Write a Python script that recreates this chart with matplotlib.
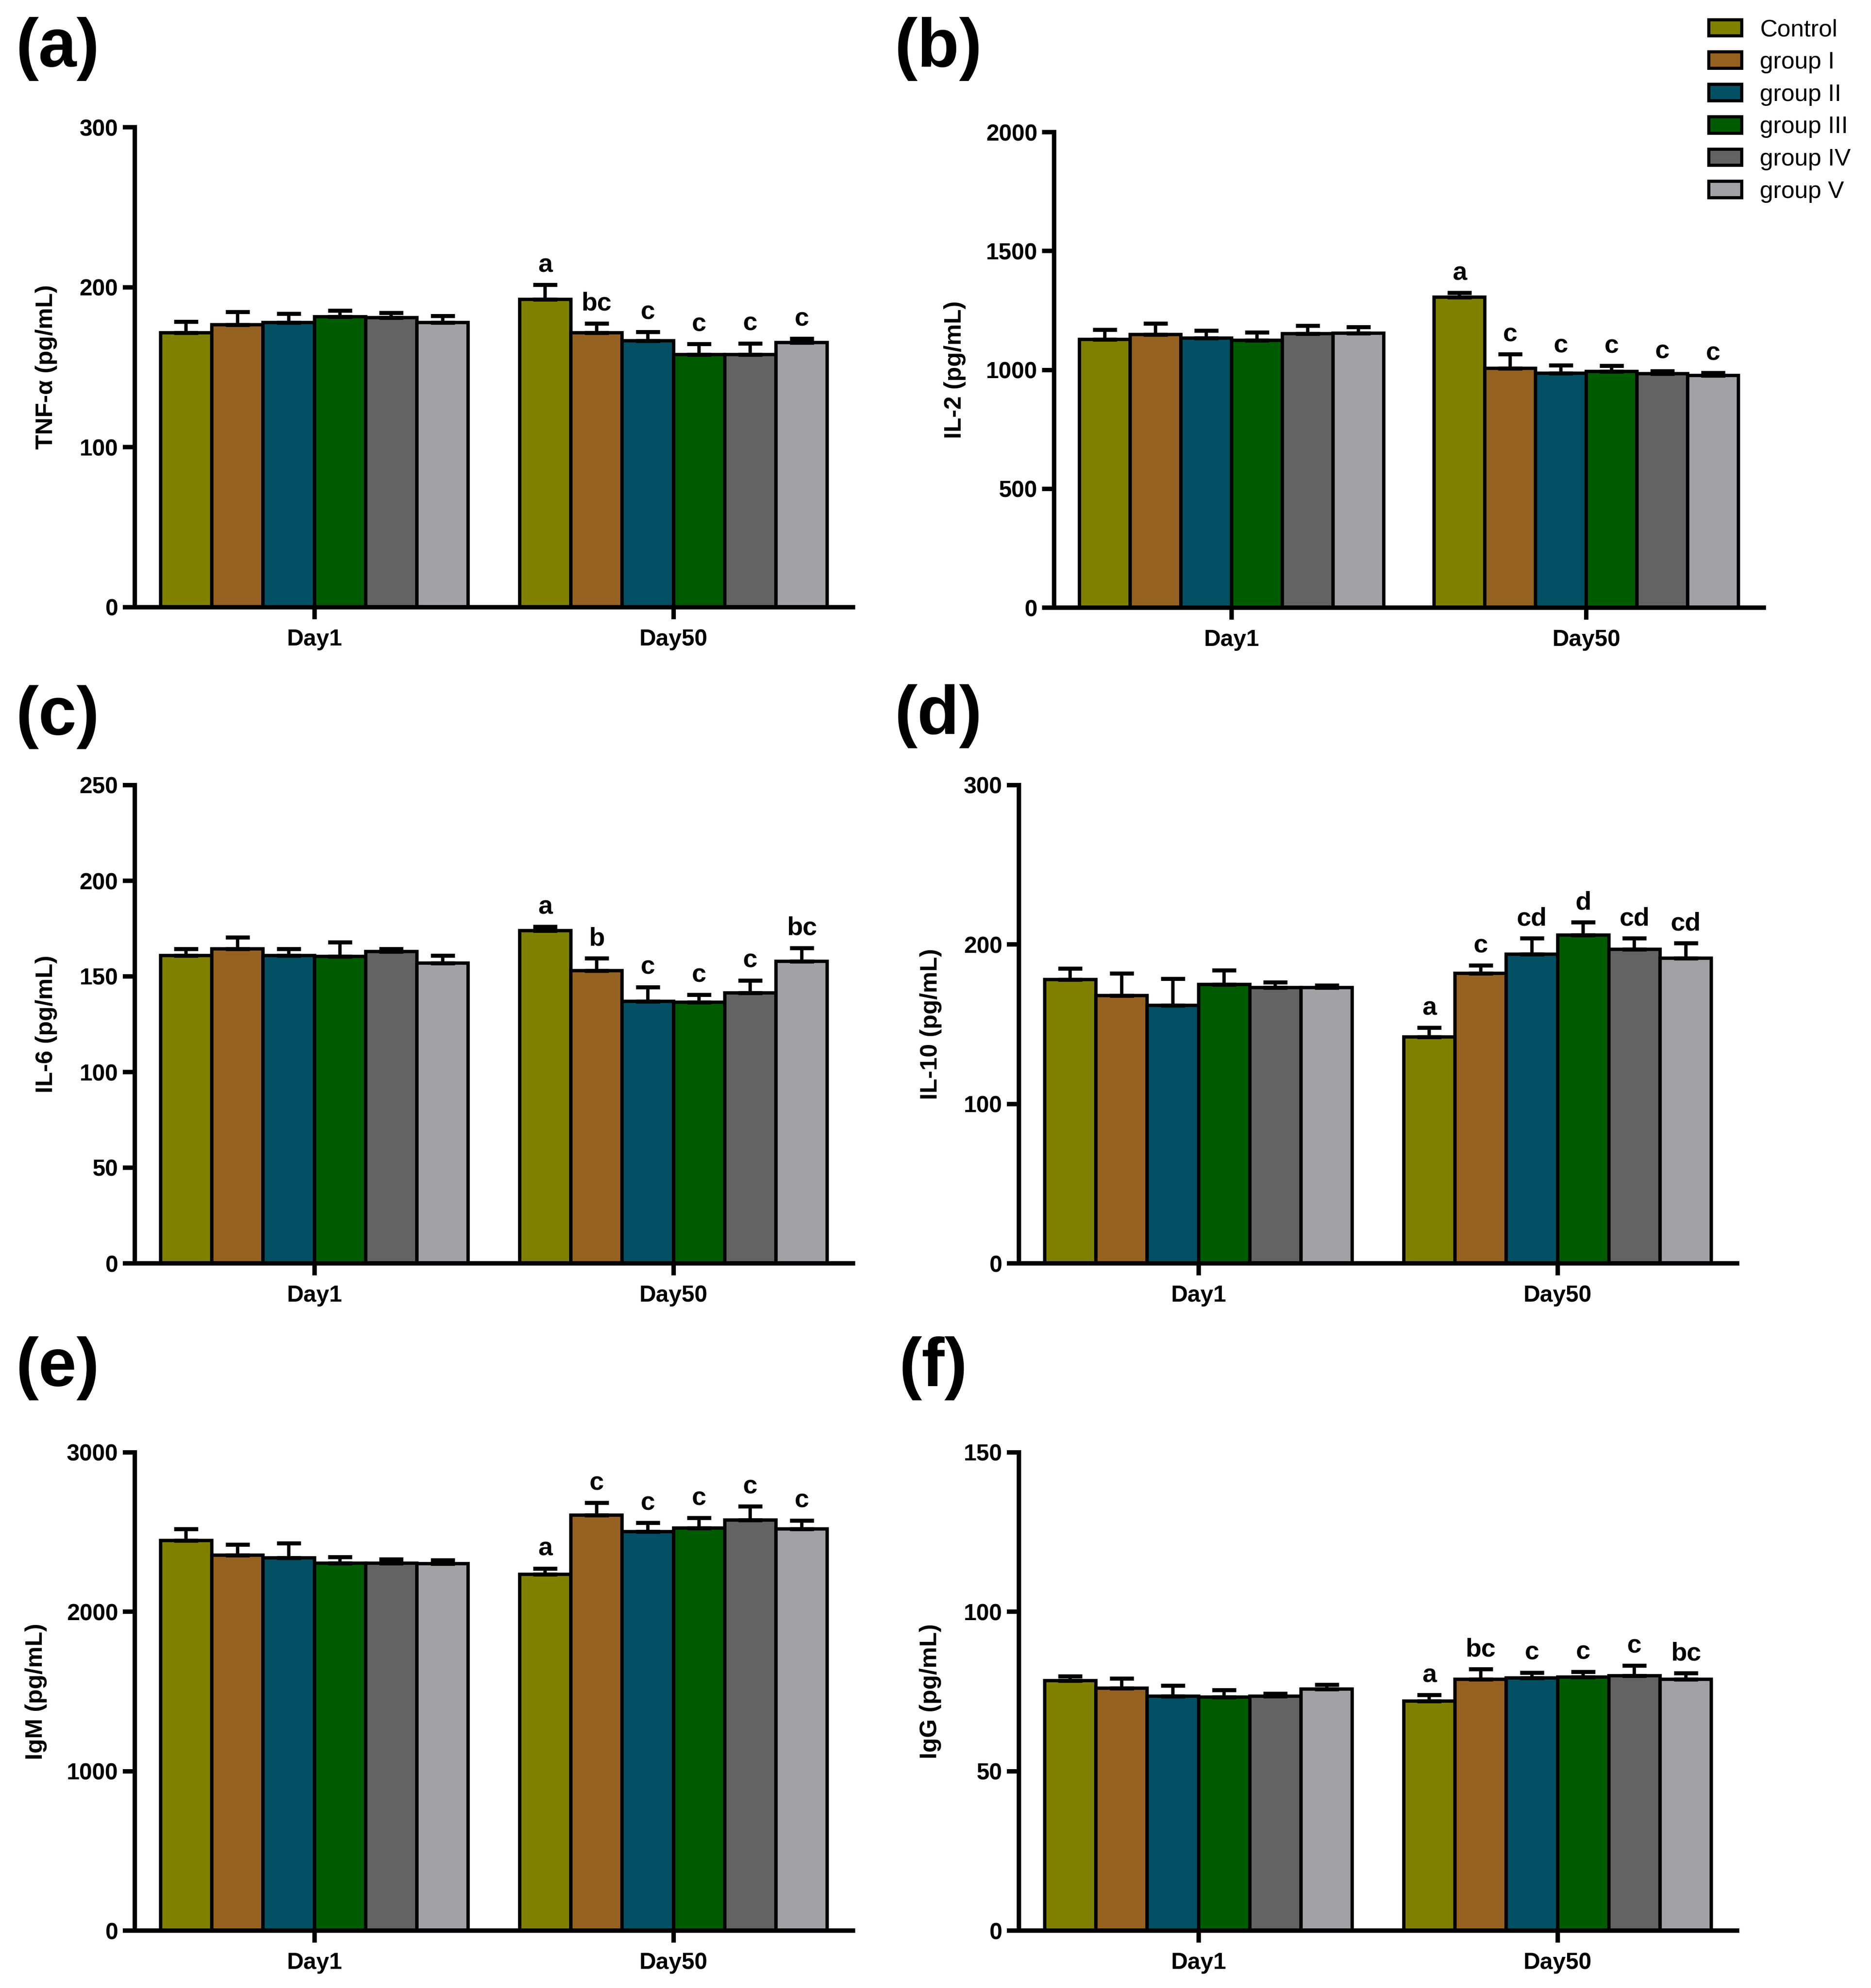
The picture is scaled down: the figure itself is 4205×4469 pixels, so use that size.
import matplotlib
matplotlib.use("Agg")
import matplotlib.pyplot as plt
from matplotlib.patches import Patch
import numpy as np

groups = ['Control', 'group I', 'group II', 'group III', 'group IV', 'group V']
colors = ['#808000', '#956221', '#034F64', '#005A00', '#636363', '#A2A1A6']
days = ['Day1', 'Day50']

# (a) TNF-a
tnf_day1 = [171.5, 176.5, 178, 181.5, 181, 178]
tnf_day1_err = [7, 8, 5.5, 4, 3, 4]
tnf_day50 = [192.5, 171.5, 166.5, 158, 158, 165.5]
tnf_day50_err = [9, 6, 5.5, 6.5, 7, 2.5]
tnf_letters = ['a', 'bc', 'c', 'c', 'c', 'c']

# (b) IL-2
il2_day1 = [1128, 1149, 1134, 1124, 1152, 1155]
il2_day1_err = [41, 47, 32, 34, 34, 25]
il2_day50 = [1305, 1007, 986, 993, 984, 976]
il2_day50_err = [20, 60, 33, 24, 11, 11]
il2_letters = ['a', 'c', 'c', 'c', 'c', 'c']

# (c) IL-6
il6_day1 = [161, 164.5, 161, 160.5, 163, 157]
il6_day1_err = [3.5, 6, 3.5, 7.5, 1.5, 4]
il6_day50 = [174, 153, 137, 136.5, 141.5, 158]
il6_day50_err = [2, 6.5, 7.5, 4, 6.5, 7]
il6_letters = ['a', 'b', 'c', 'c', 'c', 'bc']

# (d) IL-10
il10_day1 = [178, 168, 162, 175, 173, 173]
il10_day1_err = [7, 14, 16.5, 9, 3.5, 1.5]
il10_day50 = [142, 182, 194, 206, 197, 191.5]
il10_day50_err = [6, 5, 10, 8, 7, 9.5]
il10_letters = ['a', 'c', 'cd', 'd', 'cd', 'cd']

# (e) IgM
igm_day1 = [2448, 2354, 2338, 2304, 2304, 2303]
igm_day1_err = [71, 68, 94, 40, 26, 21]
igm_day50 = [2234, 2606, 2504, 2526, 2577, 2520]
igm_day50_err = [39, 79, 54, 64, 84, 54]
igm_letters = ['a', 'c', 'c', 'c', 'c', 'c']

# (f) IgG
igg_day1 = [78.4, 76.0, 73.5, 73.3, 73.6, 75.7]
igg_day1_err = [1.4, 3.1, 3.4, 2.2, 0.8, 1.5]
igg_day50 = [72, 78.8, 79.2, 79.6, 80, 78.8]
igg_day50_err = [2, 3.2, 1.8, 1.6, 3.2, 2]
igg_letters = ['a', 'bc', 'c', 'c', 'c', 'bc']

narrow = ['Liberation Sans Narrow', 'Liberation Sans', 'DejaVu Sans']
plt.rcParams['font.family'] = ['Liberation Sans', 'DejaVu Sans']

fig = plt.figure(figsize=(4205 / 300, 4469 / 300), dpi=300)

W = 4205.0
H = 4469.0

def px_axes(left, top, bottom, width=1614):
    return fig.add_axes([left / W, 1 - bottom / H, width / W, (bottom - top) / H])

panels = [
    ('(a)', px_axes(303, 286, 1365), 'TNF-α (pg/mL)', tnf_day1, tnf_day1_err, tnf_day50, tnf_day50_err, tnf_letters, [0, 100, 200, 300], -0.108, (35, 38)),
    ('(b)', px_axes(2369, 297, 1366, 1595), 'IL-2 (pg/mL)', il2_day1, il2_day1_err, il2_day50, il2_day50_err, il2_letters, [0, 500, 1000, 1500, 2000], -0.124, (2010, 38)),
    ('(c)', px_axes(303, 1765, 2840), 'IL-6 (pg/mL)', il6_day1, il6_day1_err, il6_day50, il6_day50_err, il6_letters, [0, 50, 100, 150, 200, 250], -0.108, (35, 1540)),
    ('(d)', px_axes(2290, 1765, 2840), 'IL-10 (pg/mL)', il10_day1, il10_day1_err, il10_day50, il10_day50_err, il10_letters, [0, 100, 200, 300], -0.107, (2010, 1538)),
    ('(e)', px_axes(303, 3265, 4340), 'IgM (pg/mL)', igm_day1, igm_day1_err, igm_day50, igm_day50_err, igm_letters, [0, 1000, 2000, 3000], -0.122, (35, 3004)),
    ('(f)', px_axes(2290, 3265, 4340), 'IgG (pg/mL)', igg_day1, igg_day1_err, igg_day50, igg_day50_err, igg_letters, [0, 50, 100, 150], -0.108, (2020, 3004)),
]

w = 1 / 7.0
centers = np.arange(len(days))

for tag, ax, ylabel, d1, e1, d50, e50, letters, yticks, lab_x, tag_pos in panels:
    means = np.array([d1, d50])
    errs = np.array([e1, e50])
    for i, g in enumerate(groups):
        x = centers + (i - 2.5) * w
        ax.bar(x, means[:, i], width=w, color=colors[i], edgecolor='black',
               linewidth=1.8, zorder=2)
        ax.errorbar(x, means[:, i], yerr=[np.zeros(2), errs[:, i]], fmt='none',
                    ecolor='black', elinewidth=1.8, capsize=6.5, capthick=2.2, zorder=3)
    for i, lt in enumerate(letters):
        x = centers[1] + (i - 2.5) * w
        ax.annotate(lt, (x, means[1, i] + errs[1, i]), xytext=(0, 4),
                    textcoords='offset points', ha='center', va='bottom',
                    fontsize=14, fontweight='bold', family=narrow)

    ax.set_xlim(-0.5, 1.5)
    ax.set_ylim(0, yticks[-1])
    ax.set_yticks(yticks)
    ax.set_xticks(centers)
    ax.set_xticklabels(days, fontsize=12.5, fontweight='bold', family=narrow)
    for lbl in ax.get_yticklabels():
        lbl.set_fontsize(12.5)
        lbl.set_fontweight('bold')
        lbl.set_family(narrow)
    ax.spines['top'].set_visible(False)
    ax.spines['right'].set_visible(False)
    ax.spines['left'].set_linewidth(2.4)
    ax.spines['bottom'].set_linewidth(2.4)
    ax.tick_params(axis='both', direction='out', length=6.5, width=2.4, color='black')
    ax.tick_params(axis='y', pad=2.5)
    ax.tick_params(axis='x', pad=5)
    ax.set_ylabel(ylabel, fontsize=13, fontweight='bold')
    ax.yaxis.set_label_coords(lab_x, 0.5)

    fig.text(tag_pos[0] / W, 1 - tag_pos[1] / H, tag, fontsize=37, fontweight='bold',
             ha='left', va='top')

handles = [Patch(facecolor=c, edgecolor='black', linewidth=1.7) for c in colors]
fig.legend(handles, groups, loc='upper left', bbox_to_anchor=(3840 / W, 1 - 42 / H),
           frameon=False, fontsize=13, handlelength=1.37, handleheight=0.67,
           handletextpad=0.75, labelspacing=0.42, borderaxespad=0, borderpad=0)

fig.savefig('out.png', dpi=300)
